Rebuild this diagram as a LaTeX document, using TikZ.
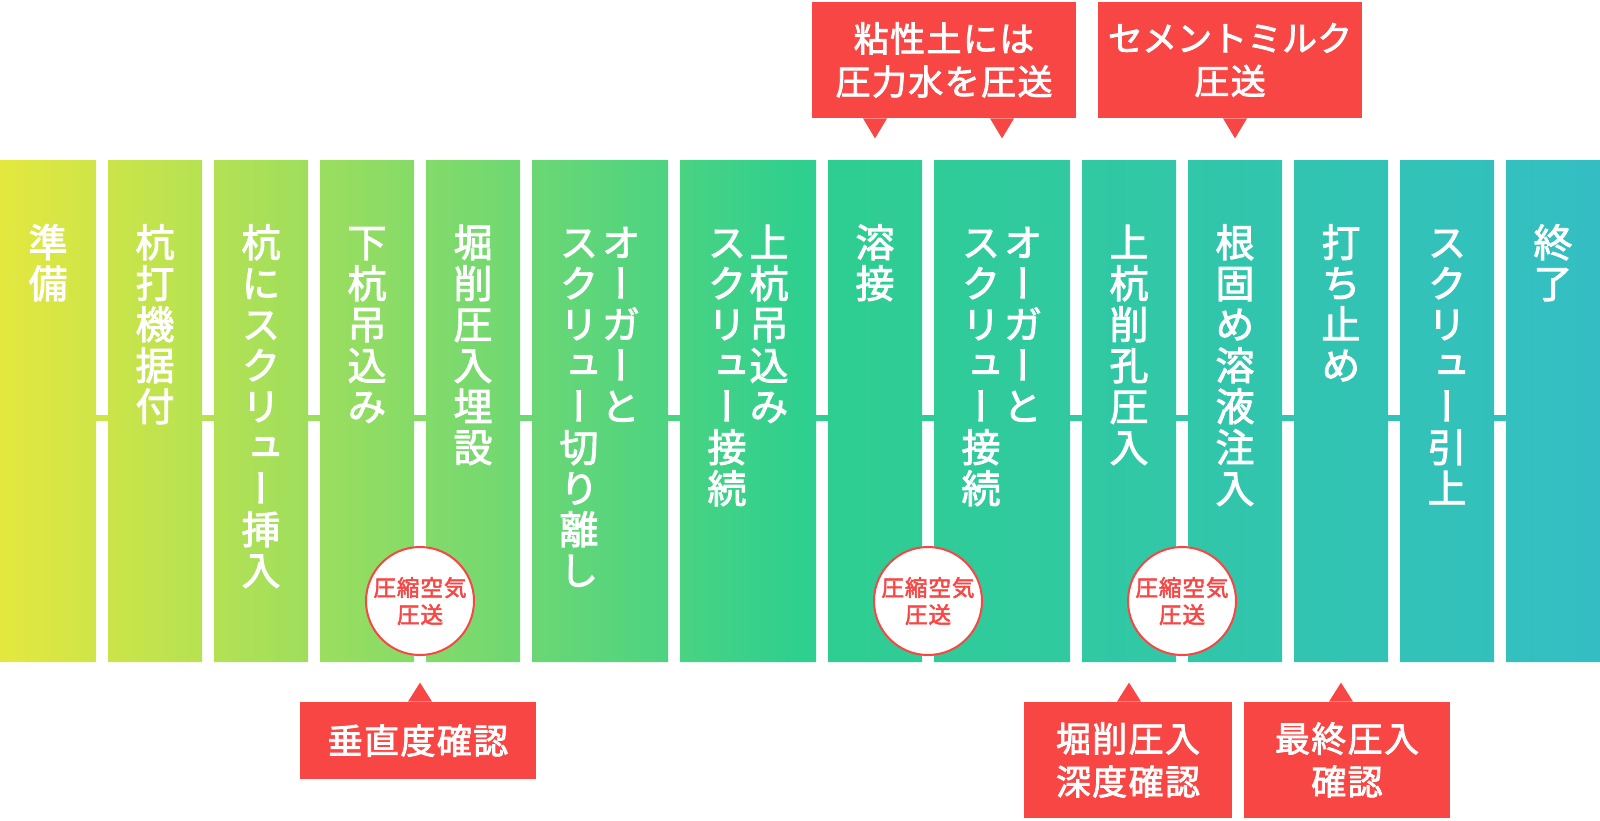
\documentclass[tikz,border=0pt]{standalone}
\usepackage{fontspec}
\usetikzlibrary{positioning}
\newfontfamily\jp[FakeBold=2.2, LetterSpace=4]{Noto Sans CJK JP}
\newfontfamily\jpv[RawFeature=+vert, FakeBold=2.2]{Noto Sans CJK JP}

\definecolor{flowA}{RGB}{228,232,62}
\definecolor{flowB}{RGB}{46,207,143}
\definecolor{flowC}{RGB}{52,190,196}
\definecolor{notered}{RGB}{248,70,68}
\pgfdeclarehorizontalshading{flowgrad}{100bp}{color(0bp)=(flowA); color(25bp)=(flowA);
    color(50bp)=(flowB); color(75bp)=(flowC); color(100bp)=(flowC)}

% vertical text, one character per line
\def\tatechars#1{\ifx#1\relax\else\hbox to 1em{\hss#1\hss}\expandafter\tatechars\fi}
\newcommand\tate[1]{\vtop{\baselineskip=20.5pt\lineskip=0pt\lineskiplimit=-20pt\expandafter\tatechars#1\relax}}
\newcommand\tatetwo[2]{\hbox{\tate{#2}\kern1.5pt\tate{#1}}}

\begin{document}
\begin{tikzpicture}[x=0.5pt, y=-0.5pt,
    every node/.style={inner sep=0pt},
    steptext/.style={font=\jpv\fontsize{19.5pt}{20.5pt}\selectfont, text=white, anchor=base},
    notebox/.style={fill=notered, text=white, align=center, font=\jp\fontsize{17.5pt}{21.5pt}\selectfont},
    notetip/.style={fill=notered},
    airbadge/.style={circle, draw=notered, line width=1pt, fill=white, text=notered, minimum size=54pt, align=center, font=\jp\fontsize{11.3pt}{13.5pt}\selectfont}
]
\useasboundingbox (0,0) rectangle (1600,820);

% columns and the line through them
\shade[shading=flowgrad] (0,415) rectangle (1600,421)
    foreach \l/\w in {0/96, 108/94, 214/94, 320/94, 426/94, 532/136, 680/136,
                      828/94, 934/136, 1082/94, 1188/94, 1294/94, 1400/94, 1506/94}
    { (\l,160) rectangle ++(\w,502) };

% steps
\foreach \i/\cx/\txt in {1/48/準備, 2/155/杭打機据付, 3/261/杭にスクリュー挿入,
        4/367/下杭吊込み, 5/473/堀削圧入埋設, 8/875/溶接, 10/1129/上杭削孔圧入,
        11/1235/根固め溶液注入, 12/1341/打ち止め, 13/1447/スクリュー引上, 14/1553/終了}
    \node[steptext] (s\i) at (\cx,257) {\tate{\txt}};
\node[steptext] (s6) at (600,257) {\tatetwo{オーガーと}{スクリュー切り離し}};
\node[steptext] (s7) at (748,257) {\tatetwo{上杭吊込み}{スクリュー接続}};
\node[steptext] (s9) at (1002,257) {\tatetwo{オーガーと}{スクリュー接続}};

% compressed air
\node[airbadge] (a1) at (420,601) {圧縮空気\\圧送};
\node[airbadge] (a2) at (928,601) {圧縮空気\\圧送};
\node[airbadge] (a3) at (1182,601) {圧縮空気\\圧送};

% notes above
\node[notebox, minimum width=132pt, minimum height=58pt] (n1) at (944,60) {粘性土には\\圧力水を圧送};
\node[notebox, minimum width=132pt, minimum height=58pt] (n2) at (1230,60) {{\addfontfeature{LetterSpace=0}セメントミルク}\\圧送};
\fill[notetip] (s8 |- n1.south) ++(-12,0) -- ++(24,0) -- ++(-12,20) -- cycle;
\fill[notetip] (s9 |- n1.south) ++(-12,0) -- ++(24,0) -- ++(-12,20) -- cycle;
\fill[notetip] (s11 |- n2.south) ++(-12,0) -- ++(24,0) -- ++(-12,20) -- cycle;

% notes below
\node[notebox, minimum width=118pt, minimum height=38.5pt] (n3) at (418,740.5) {垂直度確認};
\node[notebox, minimum width=104pt, minimum height=58pt] (n4) at (1128,760) {堀削圧入\\深度確認};
\node[notebox, minimum width=103pt, minimum height=58pt] (n5) at (1347,760) {最終圧入\\確認};
\fill[notetip] (a1 |- n3.north) ++(-12,0) -- ++(24,0) -- ++(-12,-19) -- cycle;
\fill[notetip] (s10 |- n4.north) ++(-12,0) -- ++(24,0) -- ++(-12,-19) -- cycle;
\fill[notetip] (s12 |- n5.north) ++(-12,0) -- ++(24,0) -- ++(-12,-19) -- cycle;
\end{tikzpicture}
\end{document}
